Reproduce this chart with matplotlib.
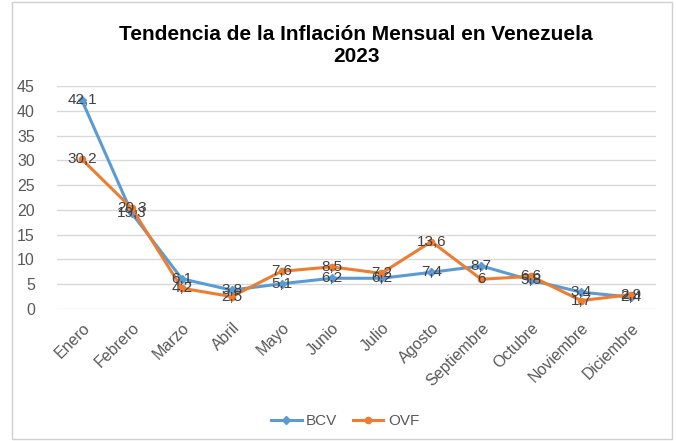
import matplotlib.pyplot as plt
from matplotlib.patches import Rectangle

# Data
meses = ['Enero', 'Febrero', 'Marzo', 'Abril', 'Mayo', 'Junio', 'Julio',
         'Agosto', 'Septiembre', 'Octubre', 'Noviembre', 'Diciembre']
bcv = [42.1, 19.3, 6.1, 3.8, 5.1, 6.2, 6.2, 7.4, 8.7, 5.8, 3.4, 2.4]
ovf = [30.2, 20.3, 4.2, 2.5, 7.6, 8.5, 7.2, 13.6, 6.0, 6.6, 1.7, 2.9]
y_ticks = [0, 5, 10, 15, 20, 25, 30, 35, 40, 45]

# Colors
blue = '#5b9bd5'
orange = '#ed7d31'
label_gray = '#404040'
tick_gray = '#595959'
grid_gray = '#d9d9d9'

plt.rcParams['font.family'] = ['Liberation Sans', 'DejaVu Sans']

fig = plt.figure(figsize=(6.76, 4.41), dpi=100, facecolor='white')

# chart frame
fig.patches.append(Rectangle((12 / 676, 0.005), 660 / 676, 0.99, transform=fig.transFigure,
                             fill=False, edgecolor='#d0d0d0', linewidth=1))

ax = fig.add_axes([57 / 676, 132 / 441, 599 / 676, 223 / 441])
x = range(len(meses))

ax.plot(x, bcv, color=blue, linewidth=2.2, marker='D', markersize=4, label='BCV', zorder=3)
ax.plot(x, ovf, color=orange, linewidth=2.2, marker='o', markersize=4.5, label='OVF', zorder=3)

# data labels centred on the points, as in the original
for vals in (bcv, ovf):
    for xi, v in zip(x, vals):
        txt = f'{v:g}'.replace('.', ',')
        ax.text(xi, v, txt, ha='center', va='center', fontsize=11,
                color=label_gray, zorder=4)

ax.set_xlim(-0.5, len(meses) - 0.5)
ax.set_ylim(0, 45)
ax.set_yticks(y_ticks)
ax.set_xticks(list(x))
ax.set_xticklabels(meses, rotation=45, ha='right', rotation_mode='anchor')
ax.tick_params(axis='both', length=0, labelsize=11.5, labelcolor=tick_gray)
ax.tick_params(axis='x', pad=8)
ax.tick_params(axis='y', pad=16)
ax.grid(axis='y', color=grid_gray, linewidth=1)
ax.set_axisbelow(True)
for s in ax.spines.values():
    s.set_visible(False)

fig.text(356 / 676, 1 - 35 / 441, 'Tendencia de la Inflación Mensual en Venezuela',
         ha='center', va='center', fontsize=15, fontweight='bold', color='black')
fig.text(356 / 676, 1 - 57 / 441, '2023',
         ha='center', va='center', fontsize=15, fontweight='bold', color='black')

fig.legend(loc='center', bbox_to_anchor=(345 / 676, 1 - 421 / 441), ncol=2, frameon=False,
           fontsize=11, labelcolor=tick_gray, handlelength=2.0, columnspacing=1.0,
           handletextpad=0.3)

fig.savefig('out.png', dpi=100, facecolor='white')
